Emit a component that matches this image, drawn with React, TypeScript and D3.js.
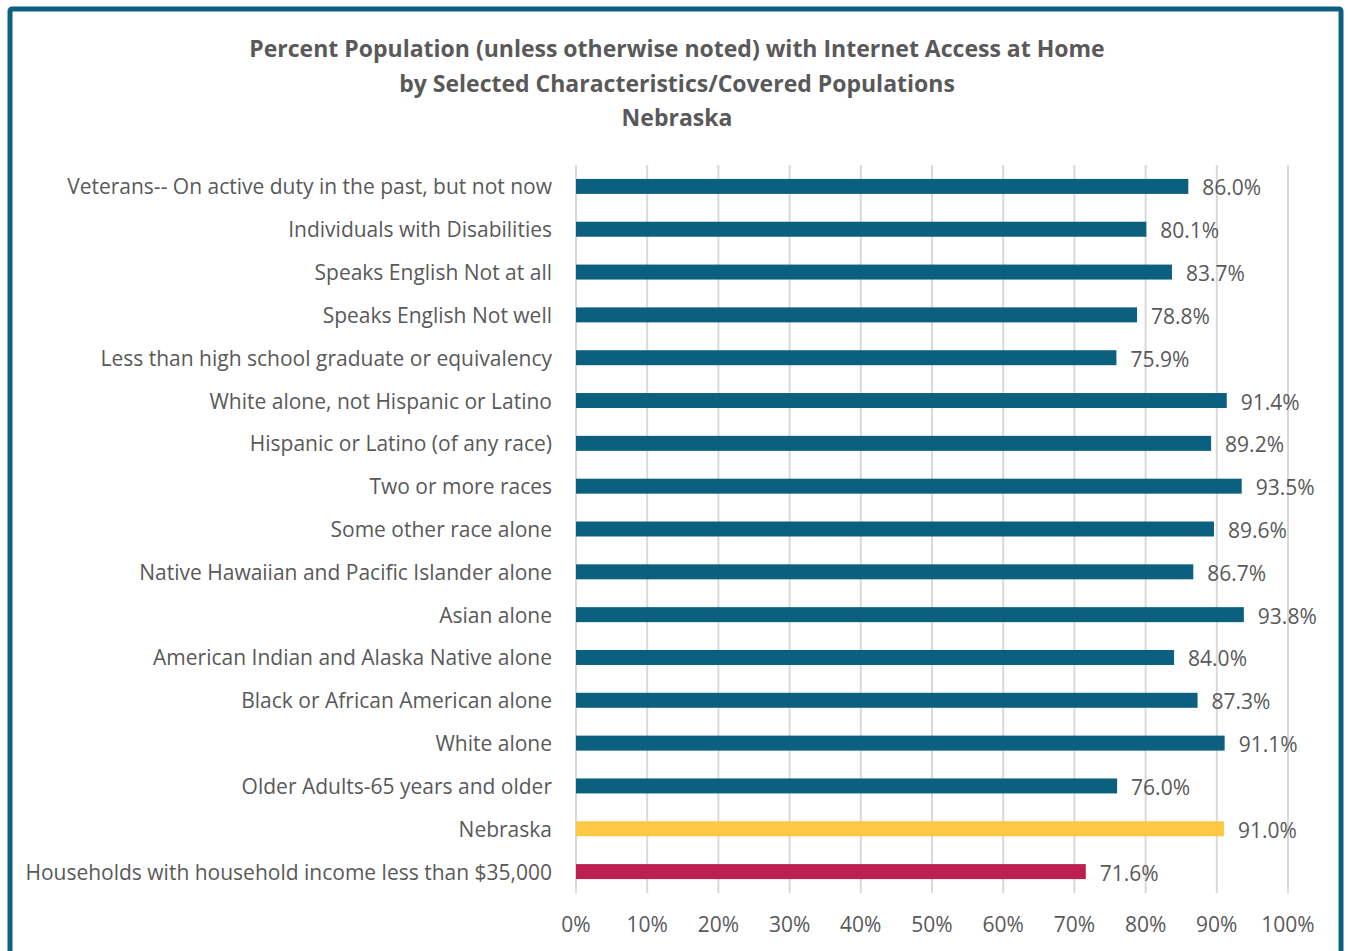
import React from "react";
import * as d3 from "d3";

const categories = [
  "Veterans-- On active duty in the past, but not now",
  "Individuals with Disabilities",
  "Speaks English Not at all",
  "Speaks English Not well",
  "Less than high school graduate or equivalency",
  "White alone, not Hispanic or Latino",
  "Hispanic or Latino (of any race)",
  "Two or more races",
  "Some other race alone",
  "Native Hawaiian and Pacific Islander alone",
  "Asian alone",
  "American Indian and Alaska Native alone",
  "Black or African American alone",
  "White alone",
  "Older Adults-65 years and older",
  "Nebraska",
  "Households with household income less than $35,000",
];

const values = [86.0, 80.1, 83.7, 78.8, 75.9, 91.4, 89.2, 93.5, 89.6, 86.7, 93.8, 84.0, 87.3, 91.1, 76.0, 91.0, 71.6];

const barColors = [
  "#0b5f7f", "#0b5f7f", "#0b5f7f", "#0b5f7f", "#0b5f7f", "#0b5f7f", "#0b5f7f", "#0b5f7f",
  "#0b5f7f", "#0b5f7f", "#0b5f7f", "#0b5f7f", "#0b5f7f", "#0b5f7f", "#0b5f7f", "#fec845", "#bc1f52",
];

const xTicks = [0, 10, 20, 30, 40, 50, 60, 70, 80, 90, 100];

const titleLines = [
  "Percent Population (unless otherwise noted) with Internet Access at Home",
  "by Selected Characteristics/Covered Populations",
  "Nebraska",
];

const W = 1348;
const H = 951;
const FONT = "'Open Sans', sans-serif";

export default function App() {
  const x = d3.scaleLinear().domain([0, 100]).range([576, 1288]);
  const y = d3.scaleBand<string>().domain(categories).range([165, 893]).paddingInner(0.65).paddingOuter(0.325);

  return (
    <svg width={W} height={H} style={{ position: "absolute", left: 0, top: 0, background: "#fff" }}>
      <rect x={10} y={9} width={1331} height={960} rx={2} fill="#fff" stroke="#0d6080" strokeWidth={5} />
      {titleLines.map((t, i) => (
        <text key={i} x={677} y={48 + i * 34.5} textAnchor="middle" dominantBaseline="central"
          fontFamily={FONT} fontWeight={700} fontSize={23} fill="#595959">{t}</text>
      ))}
      {xTicks.map((t) => (
        <g key={t}>
          <line x1={x(t)} x2={x(t)} y1={165} y2={893} stroke="#d9d9d9" strokeWidth={2} />
          <text x={x(t)} y={924} textAnchor="middle" dominantBaseline="central"
            fontFamily={FONT} fontSize={21} fill="#595959">{t}%</text>
        </g>
      ))}
      {categories.map((c, i) => {
        const yy = y(c)!;
        const bw = y.bandwidth();
        return (
          <g key={c}>
            <rect x={x(0)} y={yy} width={x(values[i]) - x(0)} height={bw} fill={barColors[i]} />
            <text x={552} y={yy + bw / 2} textAnchor="end" dominantBaseline="central"
              fontFamily={FONT} fontSize={21} fill="#595959">{c}</text>
            <text x={x(values[i]) + 14} y={yy + bw / 2 + 1} textAnchor="start" dominantBaseline="central"
              fontFamily={FONT} fontSize={21} fill="#595959">{values[i].toFixed(1)}%</text>
          </g>
        );
      })}
    </svg>
  );
}
